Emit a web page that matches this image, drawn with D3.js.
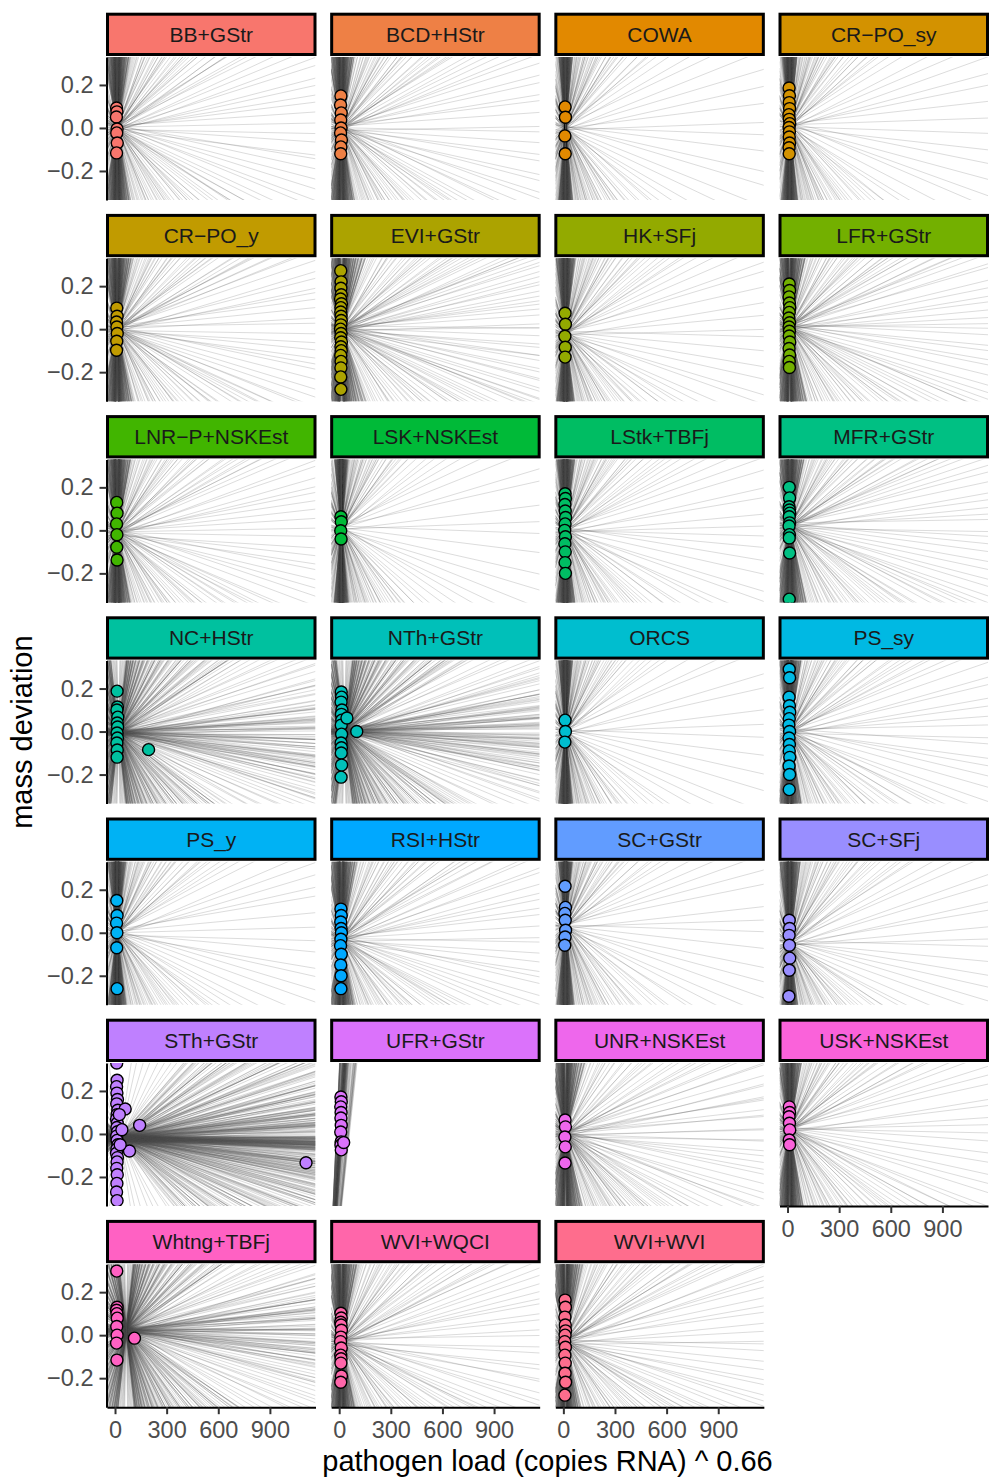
<!DOCTYPE html>
<html><head><meta charset="utf-8">
<script src="https://cdn.jsdelivr.net/npm/d3@7"></script>
<style>
body{margin:0;background:#fff}
svg{display:block}
text{font-family:"Liberation Sans",Arial,Helvetica,sans-serif}
</style>
</head><body>
<svg id="chart" width="989" height="1479"></svg>
<script>
// ---------------- data ----------------
const panels = ["BB+GStr","BCD+HStr","COWA","CR\u2212PO_sy","CR\u2212PO_y","EVI+GStr","HK+SFj","LFR+GStr",
  "LNR\u2212P+NSKEst","LSK+NSKEst","LStk+TBFj","MFR+GStr","NC+HStr","NTh+GStr","ORCS","PS_sy",
  "PS_y","RSI+HStr","SC+GStr","SC+SFj","STh+GStr","UFR+GStr","UNR+NSKEst","USK+NSKEst",
  "Whtng+TBFj","WVI+WQCI","WVI+WVI"];

// observed mass deviation per panel
const massDev = [
  [0.093,0.075,0.051,-0.005,-0.023,-0.070,-0.116],
  [0.149,0.107,0.070,0.037,0.0,-0.023,-0.056,-0.088,-0.120],
  [0.098,0.050,-0.037,-0.120],
  [0.186,0.150,0.118,0.090,0.062,0.040,0.020,0.002,-0.018,-0.042,-0.070,-0.092,-0.120],
  [0.098,0.060,0.033,0.010,-0.020,-0.056,-0.098],
  [0.272,0.220,0.190,0.160,0.140,0.118,0.100,0.080,0.060,0.040,0.020,0.0,-0.020,-0.040,-0.060,-0.082,-0.100,-0.122,-0.150,-0.180,-0.222,-0.280],
  [0.074,0.023,-0.033,-0.084,-0.130],
  [0.210,0.180,0.150,0.122,0.100,0.078,0.052,0.030,0.010,-0.010,-0.032,-0.060,-0.090,-0.120,-0.150,-0.178],
  [0.130,0.080,0.030,-0.020,-0.078,-0.138],
  [0.063,0.040,-0.002,-0.040],
  [0.170,0.148,0.120,0.090,0.060,0.030,0.0,-0.030,-0.062,-0.100,-0.150,-0.200],
  [0.200,0.151,0.110,0.095,0.080,0.063,0.035,0.020,-0.020,-0.035,-0.105,-0.320],
  [0.188,0.114,0.100,0.067,0.040,0.021,-0.007,-0.030,-0.053,-0.086,-0.119,-0.084],
  [0.184,0.160,0.137,0.100,0.080,0.053,0.030,-0.012,-0.053,-0.075,-0.100,-0.156,-0.212,0.063,0.0],
  [0.053,0.0,-0.049],
  [0.290,0.250,0.160,0.120,0.090,0.060,0.030,0.0,-0.030,-0.060,-0.090,-0.120,-0.160,-0.200,-0.270],
  [0.150,0.080,0.045,0.0,-0.070,-0.260],
  [0.110,0.080,0.050,0.020,0.0,-0.030,-0.060,-0.100,-0.150,-0.200,-0.260],
  [0.216,0.118,0.090,0.058,0.012,-0.020,-0.058],
  [0.058,0.020,-0.012,-0.058,-0.118,-0.174,-0.295],
  [0.330,0.250,0.220,0.190,0.160,0.140,0.110,0.090,0.070,0.050,0.030,0.010,-0.010,-0.030,-0.050,-0.070,-0.090,-0.110,-0.130,-0.160,-0.190,-0.230,-0.270,-0.310,0.116,0.040,-0.079,0.020,-0.050,0.090,-0.134],
  [0.172,0.150,0.126,0.100,0.074,0.040,0.009,-0.037,-0.051,-0.074,-0.040],
  [0.065,0.033,-0.014,-0.060,-0.135],
  [0.126,0.100,0.080,0.050,0.019,-0.028,-0.050],
  [0.298,0.130,0.116,0.100,0.079,0.040,0.0,-0.037,-0.116,-0.014],
  [0.102,0.080,0.060,0.047,0.023,-0.009,-0.030,-0.060,-0.093,-0.110,-0.130,-0.190,-0.219],
  [0.163,0.130,0.084,0.047,0.020,0.0,-0.030,-0.056,-0.093,-0.130,-0.177,-0.219,-0.279]
];

// observed pathogen load (copies RNA)^0.66 per panel
const pathLoad = [
  [9,11,8,12,10,13,9],
  [10,8,12,9,11,8,13,10,9],
  [10,12,9,11],
  [9,11,10,12,8,10,13,9,11,10,12,9,10],
  [10,12,9,11,13,10,9],
  [9,11,10,12,8,13,10,9,11,12,10,8,11,9,13,10,12,9,11,10,9,10],
  [10,12,9,11,10],
  [10,12,9,11,13,10,8,12,9,11,10,13,9,12,10,11],
  [10,12,9,11,10,12],
  [10,12,9,11],
  [10,12,9,11,13,10,8,12,9,11,10,12],
  [10,12,9,11,13,10,12,9,11,10,12,10],
  [12,14,11,16,13,15,12,14,11,13,12,195],
  [12,14,11,16,13,15,12,14,11,13,12,14,11,45,102],
  [10,12,9],
  [10,12,9,11,13,10,8,12,9,11,10,13,9,12,10],
  [10,12,9,11,10,12],
  [10,12,9,11,13,10,8,12,9,11,10],
  [10,12,9,11,13,10,8],
  [10,12,9,11,13,10,8],
  [10,12,9,11,14,10,16,12,9,13,11,15,10,12,17,11,9,14,12,10,13,11,9,12,59,143,84,40,30,25,1110],
  [10,12,9,11,10,12,9,11,10,12,26],
  [10,12,9,11,10],
  [10,12,9,11,13,10,12],
  [10,12,9,11,13,10,12,9,11,113],
  [10,12,9,11,13,10,8,12,9,11,10,13,9],
  [10,12,9,11,13,10,8,12,9,11,10,13,9]
];

// posterior regression fan per panel (pivot point, slope centre & spread per 1000 load units)
const fanPivotX = [12,12,12,12,12,14,12,12,12,12,12,14,20,30,12,12,12,12,12,12,30,-74,12,12,65,12,12];
const fanPivotY = [0.0,0.0,0.0,0.01,0.0,0.0,-0.02,0.01,-0.01,0.01,0.0,0.02,-0.005,0.0,0.0,0.0,0.0,-0.03,0.03,-0.05,-0.02,-1.0,0.0,0.02,0.02,-0.03,-0.03];
const fanSlopeMid = [0,0,0,0,0,0,0,0,0,0,0,0,-0.04,0,0,0,0,0,0,0,-0.022,12.5,-0.3,0,0,0,0];
const fanSlopeScale = [1.1,1.1,2.0,1.8,0.9,0.6,1.5,0.85,1.0,2.0,1.5,0.9,0.13,0.12,2.0,1.2,1.5,1.0,1.8,1.5,0.016,1.0,0.8,1.1,0.13,0.9,0.9];
const fanQMax = [1000,1000,1000,1000,1000,1000,1000,1000,1000,1000,1000,1000,1000,1000,1000,1000,1000,1000,1000,1000,1000,5,1000,1000,1000,1000,1000];

// standardized slope draws (magnitudes; used with both signs)
const drawQ = [
  0.015,0.05,0.09,0.12,0.16,0.19,0.23,0.27,0.30,0.34,
  0.36,0.40,0.41,0.45,0.47,0.49,0.53,0.55,0.57,0.62,0.64,0.66,0.71,0.73,0.78,0.80,0.85,0.88,0.93,0.96,
  1.01,1.06,1.09,1.16,1.19,1.26,1.32,1.37,1.45,1.50,1.60,1.66,1.76,1.84,1.95,2.07,2.16,2.33,2.45,2.64,
  2.80,3.05,3.22,3.55,3.83,
  4.00,4.07,4.15,4.22,4.30,4.38,4.46,4.54,4.63,4.71,
  4.80,4.89,4.97,5.07,5.16,5.25,5.35,5.45,5.55,5.65,
  5.75,5.86,5.97,6.08,6.19,6.30,6.42,6.53,6.65,6.78,
  6.90,7.03,7.15,7.29,7.42,7.56,7.69,7.83,7.98,8.12,
  8.27,8.43,8.58,8.74,8.90,9.06,9.23,9.40,9.57,9.74,
  9.92,10.1,10.3,10.5,10.7,10.9,11.1,11.3,11.5,11.7,
  11.9,12.1,12.3,12.6,12.8,13.0,13.3,13.5,13.8,14.0,
  14.3,14.5,14.8,15.1,15.3,15.6,15.9,16.2,16.5,16.8,
  17.1,17.4,17.7,18.1,18.4,18.7,19.1,19.4,19.8,20.1,
  20.5,20.9,21.3,21.7,22.1,22.5,22.9,23.3,23.7,24.2,
  24.6,25.1,25.5,26.0,26.5,27.0,27.4,27.9,28.5,29.0,
  29.5,30.1,30.6,31.2,31.7,32.3,32.9,33.5,34.1,34.8,
  35.4,36.0,36.7,37.4,38.1,38.8,39.5,40.2,40.9,41.7,
  42.5,43.2,44.0,44.8,45.7,46.5,47.3,48.2,49.1,50.0,
  50.9,51.8,52.8,53.8,54.7,55.8,56.8,57.8,58.9,60.0,
  66,75,88,105,130,170,230,330
];
// intercept draws (mass deviation offsets)
const drawE = [0.004,-0.007,0.011,-0.002,0.006,-0.012,0.001,0.009,-0.005,0.013,-0.009,0.003,-0.001,0.008,
  -0.014,0.005,-0.004,0.010,-0.008,0.002,0.012,-0.006,0.0,-0.011,0.007,-0.003,0.015,-0.010,0.004];

const xTicks = [0, 300, 600, 900];
const yTicks = [-0.2, 0, 0.2];
const xLimits = [-46.6, 1165];
const yLimits = [-0.335, 0.33];

// ---------------- layout ----------------
const ncol = 4;
const panelW = 208.5, panelH = 143;
const left0 = 107, colPitch = 224.17;
const top0 = 57, rowPitch = 201.2;

function hueLuv(h, c, l) {
  const hr = h * Math.PI / 180;
  const U = c * Math.cos(hr), V = c * Math.sin(hr);
  const Y = l > 8 ? Math.pow((l + 16) / 116, 3) : l / 903.3;
  const Xn = 0.95047, Yn = 1.0, Zn = 1.08883;
  const den = Xn + 15 * Yn + 3 * Zn;
  const un = 4 * Xn / den, vn = 9 * Yn / den;
  const u = U / (13 * l) + un, v = V / (13 * l) + vn;
  const X = 9 * Y * u / (4 * v);
  const Z = Y * (12 - 3 * u - 20 * v) / (4 * v);
  const lin = [
    3.2404542 * X - 1.5371385 * Y - 0.4985314 * Z,
    -0.9692660 * X + 1.8760108 * Y + 0.0415560 * Z,
    0.0556434 * X - 0.2040259 * Y + 1.0572252 * Z
  ];
  const g = lin.map(t => {
    const s = t <= 0.0031308 ? 12.92 * t : 1.055 * Math.pow(t, 1 / 2.4) - 0.055;
    return Math.round(255 * Math.max(0, Math.min(1, s)));
  });
  return d3.rgb(g[0], g[1], g[2]).formatHex();
}
const colors = panels.map((_, i) => hueLuv(15 + 360 / panels.length * i, 100, 65));

const svg = d3.select("#chart");
const fmtY = d3.format(".1f");

panels.forEach((name, p) => {
  const col = p % ncol, row = Math.floor(p / ncol);
  const L = left0 + col * colPitch, T = top0 + row * rowPitch;
  const x = d3.scaleLinear().domain(xLimits).range([L, L + panelW]);
  const y = d3.scaleLinear().domain(yLimits).range([T + panelH, T]);

  const clipId = "clip" + p;
  svg.append("clipPath").attr("id", clipId)
    .append("rect").attr("x", L).attr("y", T).attr("width", panelW).attr("height", panelH);

  // fan of posterior lines
  const segs = [];
  const px = fanPivotX[p];
  drawQ.forEach((q, i) => {
    if (q > fanQMax[p]) return;
    [1, -1].forEach((sg, k) => {
      const s = (fanSlopeMid[p] + sg * fanSlopeScale[p] * q) / 1000;
      const py = fanPivotY[p] + drawE[(2 * i + k + 5 * p) % drawE.length];
      let xa = xLimits[0], xb = xLimits[1];
      if (s !== 0) {
        const x1 = px + (yLimits[0] - 0.02 - py) / s;
        const x2 = px + (yLimits[1] + 0.02 - py) / s;
        xa = Math.max(xa, Math.min(x1, x2));
        xb = Math.min(xb, Math.max(x1, x2));
      }
      if (xb <= xa) return;
      segs.push({x1: xa, y1: py + s * (xa - px), x2: xb, y2: py + s * (xb - px)});
    });
  });
  const gl = svg.append("g").attr("clip-path", `url(#${clipId})`);
  gl.selectAll("line").data(segs).join("line")
    .attr("x1", d => x(d.x1)).attr("y1", d => y(d.y1))
    .attr("x2", d => x(d.x2)).attr("y2", d => y(d.y2))
    .attr("stroke", "#4d4d4d").attr("stroke-opacity", 0.22).attr("stroke-width", 0.9);

  // points
  const pts = massDev[p].map((v, i) => ({x: pathLoad[p][i], y: v}));
  svg.append("g").attr("clip-path", `url(#${clipId})`)
    .selectAll("circle").data(pts).join("circle")
    .attr("cx", d => x(d.x)).attr("cy", d => y(d.y)).attr("r", 6.0)
    .attr("fill", colors[p]).attr("stroke", "#000").attr("stroke-width", 1.4);

  // strip
  const sg = svg.append("g");
  sg.append("rect").attr("x", L + 0.5).attr("y", T - 42.8).attr("width", panelW - 1).attr("height", 40.3)
    .attr("fill", colors[p]).attr("stroke", "#000").attr("stroke-width", 3);
  sg.append("text").attr("x", L + panelW / 2).attr("y", T - 22.6).attr("dy", "0.35em")
    .attr("text-anchor", "middle").attr("font-size", 21).attr("fill", "#1a1a1a").text(name);

  // y axis on first column
  if (col === 0) {
    const ax = svg.append("g").attr("transform", `translate(${L - 0.5},0)`)
      .call(d3.axisLeft(y).tickValues(yTicks).tickFormat(fmtY).tickSizeInner(7).tickSizeOuter(0).tickPadding(6));
    styleAxis(ax);
  }
  // x axis where no panel below
  if (p + ncol >= panels.length) {
    const ax = svg.append("g").attr("transform", `translate(0,${T + panelH})`)
      .call(d3.axisBottom(x).tickValues(xTicks).tickFormat(d3.format("d")).tickSizeInner(7).tickSizeOuter(0).tickPadding(7));
    styleAxis(ax);
  }
});

function styleAxis(ax) {
  ax.select(".domain").attr("stroke", "#000").attr("stroke-width", 2);
  ax.selectAll(".tick line").attr("stroke", "#333").attr("stroke-width", 2);
  ax.selectAll(".tick text").attr("fill", "#4d4d4d").attr("font-size", 23.5)
    .attr("font-family", "'Liberation Sans',Arial,sans-serif");
}

// axis titles
const plotLeft = left0, plotRight = left0 + 3 * colPitch + panelW;
svg.append("text").attr("x", (plotLeft + plotRight) / 2).attr("y", 1471)
  .attr("text-anchor", "middle").attr("font-size", 29).attr("fill", "#000")
  .text("pathogen load (copies RNA) ^ 0.66");
const plotTop = top0, plotBottom = top0 + 6 * rowPitch + panelH;
svg.append("text").attr("transform", `translate(32,${(plotTop + plotBottom) / 2}) rotate(-90)`)
  .attr("text-anchor", "middle").attr("font-size", 29).attr("fill", "#000")
  .text("mass deviation");
</script>
</body></html>
